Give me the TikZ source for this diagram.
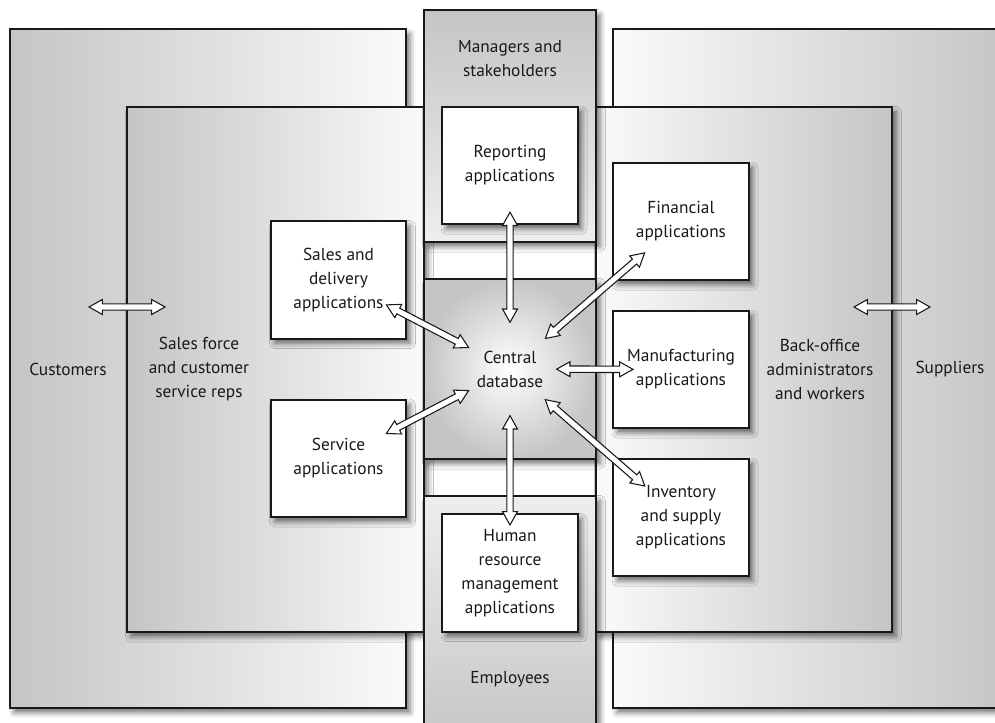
\documentclass[tikz,border=0pt]{standalone}
\usepackage{fontspec}
\setmainfont{PT Sans}
\usetikzlibrary{calc,shadows,shadows.blur}

\definecolor{grisosc}{HTML}{C4C5C7}
\definecolor{grisfondo}{HTML}{FAFAFA}

\tikzset{
  texto/.style={font=\fontsize{13}{18}\selectfont, align=center, text=black!90},
  sombra/.style={blur shadow={shadow xshift=3pt, shadow yshift=-3.5pt,
      shadow blur radius=4pt, shadow opacity=55}},
  caja/.style={line width=1.4pt, draw=black!90},
  aplic/.style={caja, sombra, texto, fill=white, minimum width=101.5pt,
      minimum height=88pt, inner sep=2pt},
  flecha/.style 2 args={draw=black!90, fill=white, line width=0.8pt, line join=miter,
    to path={let \p1=(\tikztostart), \p2=(\tikztotarget),
      \n1={atan2(\y2-\y1,\x2-\x1)}, \n2={veclen(\x2-\x1,\y2-\y1)} in
      [shift={(\p1)}, rotate=\n1]
      (#1,0pt) -- (#1+10pt,5.6pt) -- (#1+10pt,2.4pt) -- (\n2-#2-10pt,2.4pt)
      -- (\n2-#2-10pt,5.6pt) -- (\n2-#2,0pt) -- (\n2-#2-10pt,-5.6pt)
      -- (\n2-#2-10pt,-2.4pt) -- (#1+10pt,-2.4pt) -- (#1+10pt,-5.6pt) -- cycle}}
}

\begin{document}
\begin{tikzpicture}[x=0.75pt, y=-0.75pt]
    \useasboundingbox (0,0) rectangle (995,723);

    % Zonas exteriores
    \draw[caja, sombra, left color=grisosc, right color=grisfondo] (10,29) rectangle (406,708);
    \draw[caja, sombra, left color=grisfondo, right color=grisosc] (613,29) rectangle (1010,708);

    % Franja blanca central
    \draw[caja, fill=white] (424,242) rectangle (596,496);

    % Zonas intermedias
    \draw[caja, sombra, left color=grisosc, right color=grisfondo] (127,107) rectangle (424,632);
    \draw[caja, sombra, left color=grisfondo, right color=grisosc] (596,107) rectangle (892,632);
    \draw[caja, sombra, top color=grisosc, bottom color=grisfondo!95!black] (424,10) rectangle (596,242);
    \draw[caja, sombra, top color=grisfondo!95!black, bottom color=grisosc] (424,496) rectangle (596,745);

    % Base de datos central
    \node[caja, sombra, texto, inner color=white, outer color=grisosc,
          minimum width=129pt, minimum height=135pt] (db) at (510,369) {Central\\database};

    % Aplicaciones
    \node[aplic] (rep) at (510,165.5) {Reporting\\applications};
    \node[aplic] (ventas) at (338.5,280) {Sales and\\delivery\\applications};
    \node[aplic] (serv) at (338.5,458.5) {Service\\applications};
    \node[aplic] (fin) at (681,221.5) {Financial\\applications};
    \node[aplic] (manu) at (681,369.5) {Manufacturing\\applications};
    \node[aplic] (inv) at (681,517.5) {Inventory\\and supply\\applications};
    \node[aplic] (rh) at (510,573) {Human\\resource\\management\\applications};

    % Etiquetas de las zonas
    \node[texto] (mgr) at (510,59) {Managers and\\stakeholders};
    \node[texto] (emp) at (510,679) {Employees};
    \node[texto] (cli) at (68,369) {Customers};
    \node[texto] (fuerza) at (199,369) {Sales force\\and customer\\service reps};
    \node[texto] (back) at (820,369) {Back-office\\administrators\\and workers};
    \node[texto] (prov) at (950,369) {Suppliers};

    % Flechas
    \coordinate (c1) at (89,307);
    \coordinate (c2) at (165,307);
    \coordinate (p1) at (854,307);
    \coordinate (p2) at (930,307);
    \draw[flecha={0pt}{0pt}] (c1) to (c2);
    \draw[flecha={0pt}{0pt}] (p1) to (p2);
    \draw[flecha={35pt}{35pt}] (rep) to (db);
    \draw[flecha={40.5pt}{35pt}] (ventas) to (db);
    \draw[flecha={40.5pt}{35pt}] (serv) to (db);
    \draw[flecha={36pt}{35pt}] (fin) to (db);
    \draw[flecha={36pt}{35pt}] (manu) to (db);
    \draw[flecha={36pt}{35pt}] (inv) to (db);
    \draw[flecha={36pt}{35pt}] (rh) to (db);
\end{tikzpicture}
\end{document}
